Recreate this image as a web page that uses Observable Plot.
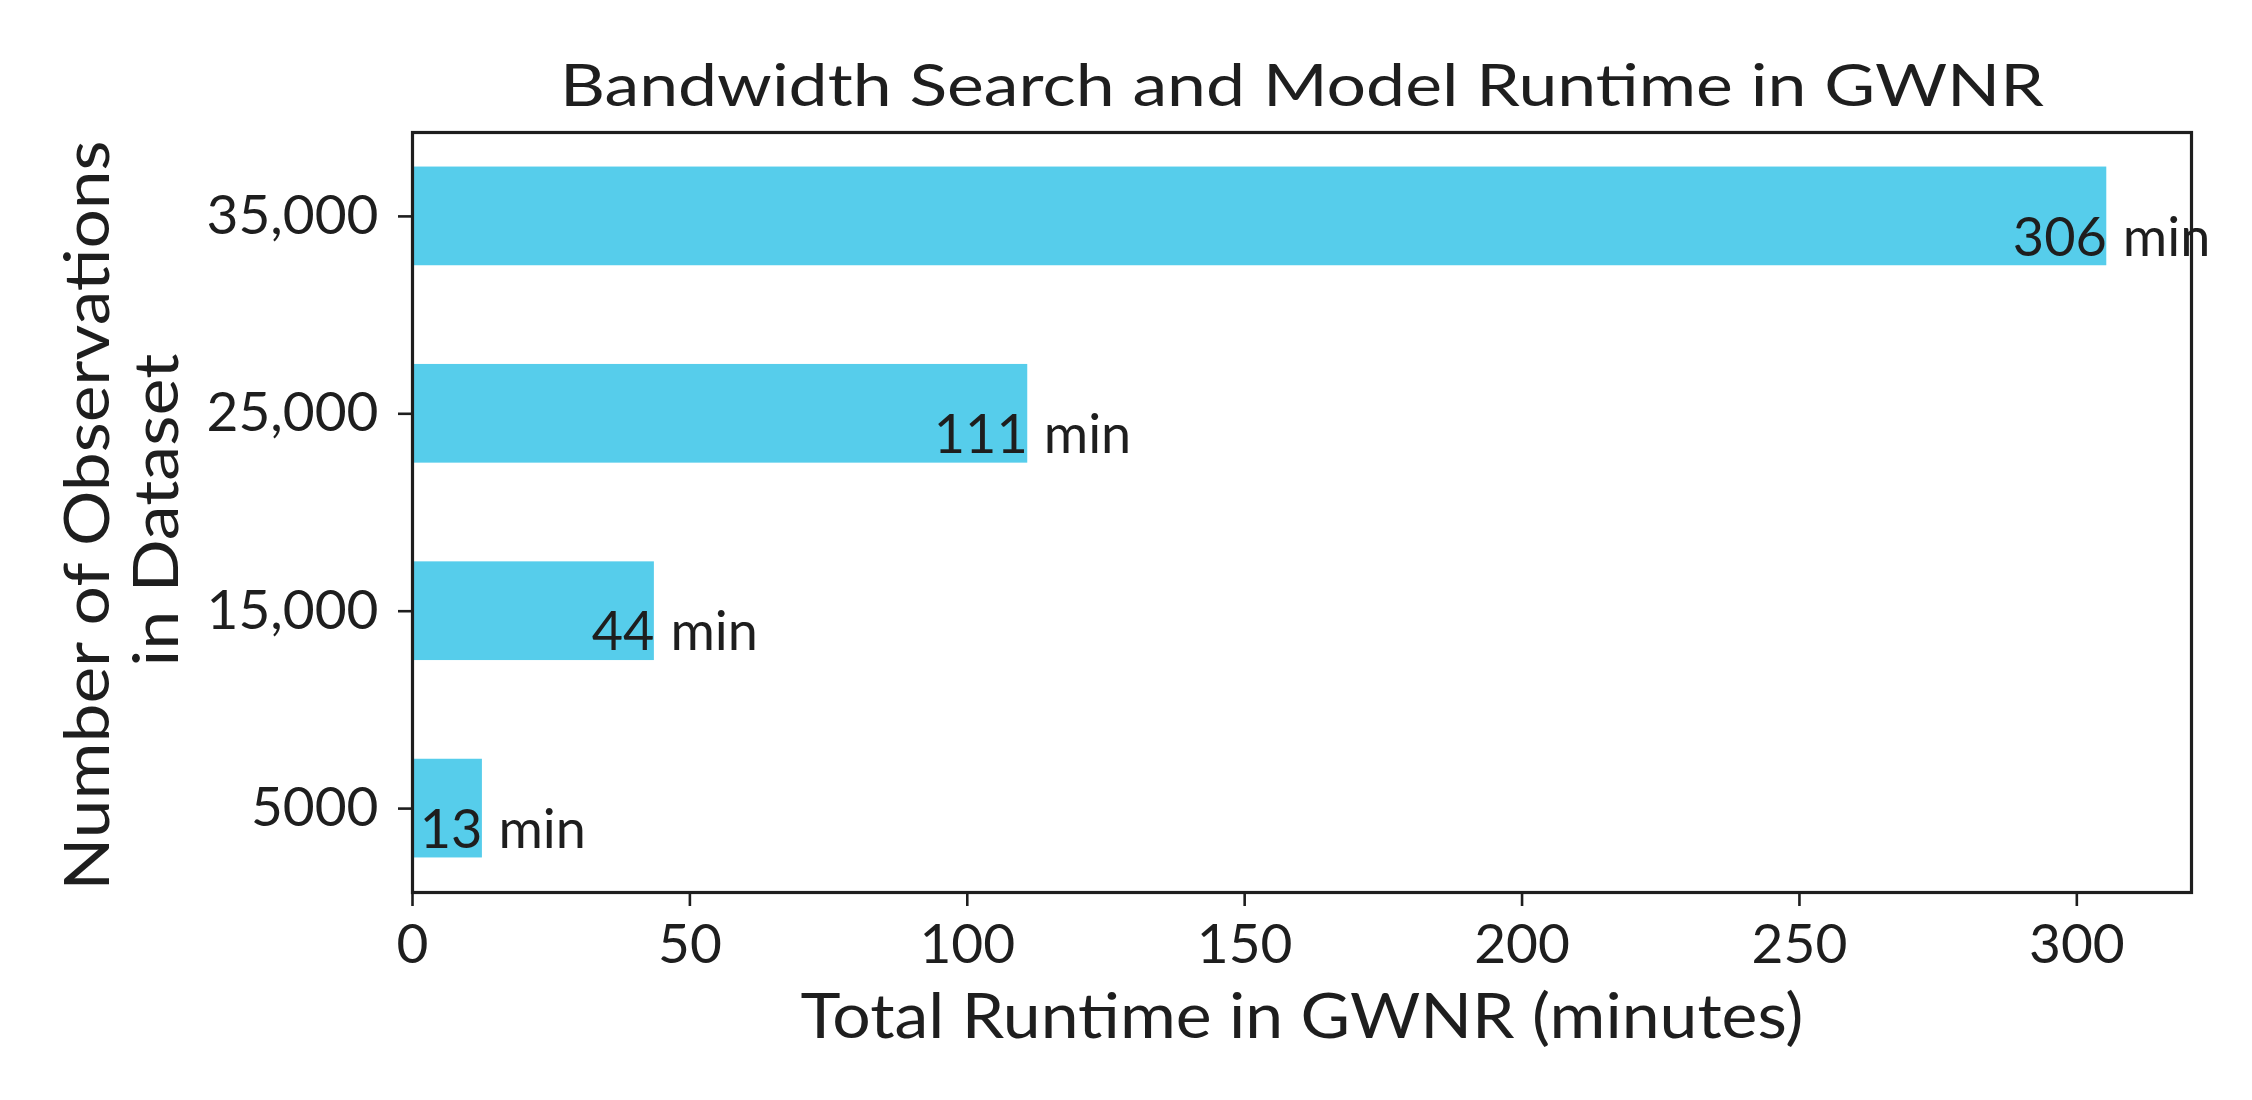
<!DOCTYPE html>
<html>
<head>
<meta charset="utf-8">
<script src="https://cdn.jsdelivr.net/npm/d3@7"></script>
<script src="https://cdn.jsdelivr.net/npm/@observablehq/plot@0.6"></script>
<style>
  html, body { margin: 0; padding: 0; background: #ffffff; }
  #chart { width: 2252px; height: 1100px; }
</style>
</head>
<body>
<div id="chart"></div>
<script>
// ---- data ----
const observations = [5000, 15000, 25000, 35000];
const runtimeMinutes = [12.6, 43.6, 110.9, 305.4];
const runtimeLabels = ["13", "44", "111", "306"];
const yTickValues = [5000, 15000, 25000, 35000];
const yTickLabels = ["5000", "15,000", "25,000", "35,000"];
const xTickValues = [0, 50, 100, 150, 200, 250, 300];

const titleText = "Bandwidth Search and Model Runtime in GWNR";
const xLabelText = "Total Runtime in GWNR (minutes)";
const yLabelLines = ["Number of Observations", "in Dataset"];

const rows = observations.map((o, i) => ({
  obs: o, runtime: runtimeMinutes[i], label: runtimeLabels[i]
}));

const barHalf = 2500; // bar thickness (in y units) / 2
const xMax = d3.max(runtimeMinutes) * 1.05;
const yPad = (d3.max(observations) - d3.min(observations) + 2 * barHalf) * 0.05;
const yDomain = [d3.min(observations) - barHalf - yPad, d3.max(observations) + barHalf + yPad];

const ink = "#1e1e1e";
const font = "Lato, 'Noto Sans', sans-serif";

const chart = Plot.plot({
  width: 2252,
  height: 1100,
  marginTop: 132,
  marginRight: 61,
  marginBottom: 208,
  marginLeft: 412,
  style: { fontFamily: font, color: ink, background: "#ffffff", overflow: "visible" },
  x: { domain: [0, xMax] },
  y: { domain: yDomain },
  marks: [
    Plot.rect(rows, {
      x1: 0, x2: "runtime",
      y1: d => d.obs - barHalf, y2: d => d.obs + barHalf,
      fill: "#56cdeb"
    }),
    Plot.axisX({
      ticks: xTickValues, tickSize: 14, tickPadding: 17, fontSize: 55,
      stroke: ink, strokeWidth: 2.6, fill: ink, label: null
    }),
    Plot.axisY({
      ticks: yTickValues, tickFormat: (d) => yTickLabels[yTickValues.indexOf(d)],
      tickSize: 14, tickPadding: 20, fontSize: 55,
      stroke: ink, strokeWidth: 2.6, fill: ink, label: null
    }),
    Plot.text(rows, {
      x: "runtime", y: "obs", text: "label",
      textAnchor: "end", dy: 22, fontSize: 54, fill: ink
    }),
    Plot.text(rows, {
      x: "runtime", y: "obs", text: () => "min",
      textAnchor: "start", dx: 16, dy: 22, fontSize: 54, fill: ink
    }),
    Plot.frame({ stroke: ink, strokeWidth: 3.2 }),
    Plot.text([titleText], {
      frameAnchor: "top", lineAnchor: "bottom", dy: -27,
      fontSize: 58, fill: ink, className: "ttl"
    }),
    Plot.text([xLabelText], {
      frameAnchor: "bottom", lineAnchor: "bottom", dy: 145,
      fontSize: 62, fill: ink, className: "xlab"
    }),
    Plot.text([yLabelLines[0]], {
      frameAnchor: "left", lineAnchor: "bottom", textAnchor: "start", rotate: -90,
      dx: -304, dy: 378,
      fontSize: 62, fill: ink, className: "ylab1"
    }),
    Plot.text([yLabelLines[1]], {
      frameAnchor: "left", lineAnchor: "bottom", textAnchor: "start", rotate: -90,
      dx: -235, dy: 154,
      fontSize: 62, fill: ink, className: "ylab2"
    })
  ]
});

const svg = d3.select(chart);
svg.selectAll("g.ttl text").attr("textLength", 1484).attr("lengthAdjust", "spacingAndGlyphs");
svg.selectAll("g.xlab text").attr("textLength", 1003).attr("lengthAdjust", "spacingAndGlyphs");
svg.selectAll("g.ylab1 text").attr("textLength", 750).attr("lengthAdjust", "spacingAndGlyphs");
svg.selectAll("g.ylab2 text").attr("textLength", 313).attr("lengthAdjust", "spacingAndGlyphs");

document.getElementById("chart").appendChild(chart);
</script>
</body>
</html>
